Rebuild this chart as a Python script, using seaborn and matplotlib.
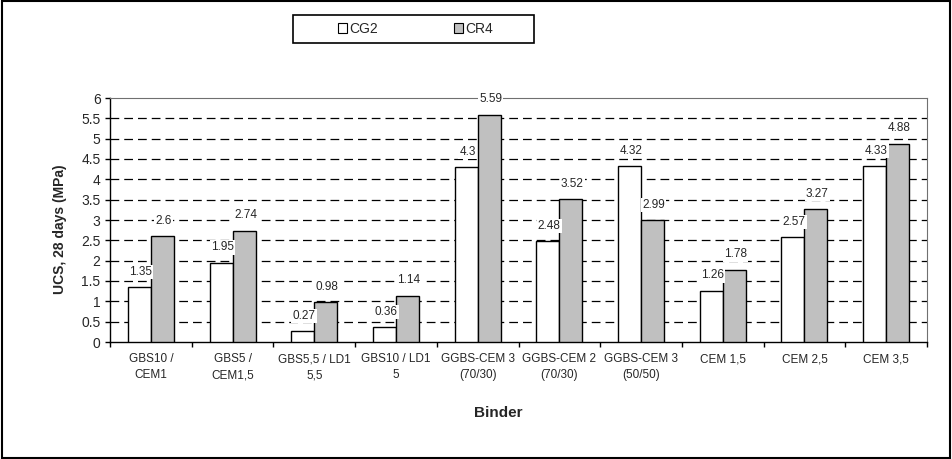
import matplotlib
matplotlib.use("Agg")
import matplotlib.pyplot as plt
import seaborn as sns
import pandas as pd
from matplotlib.patches import Rectangle
from matplotlib.ticker import FixedLocator

binders = ["GBS10 /\nCEM1", "GBS5 /\nCEM1,5", "GBS5,5 / LD1\n5,5", "GBS10 / LD1\n5",
           "GGBS-CEM 3\n(70/30)", "GGBS-CEM 2\n(70/30)", "GGBS-CEM 3\n(50/50)",
           "CEM 1,5", "CEM 2,5", "CEM 3,5"]
cg2 = [1.35, 1.95, 0.27, 0.36, 4.3, 2.48, 4.32, 1.26, 2.57, 4.33]
cr4 = [2.6, 2.74, 0.98, 1.14, 5.59, 3.52, 2.99, 1.78, 3.27, 4.88]
series = ["CG2", "CR4"]
yticks = [0, 0.5, 1, 1.5, 2, 2.5, 3, 3.5, 4, 4.5, 5, 5.5, 6]

df = pd.DataFrame({
    "Binder": binders * 2,
    "Series": ["CG2"] * len(binders) + ["CR4"] * len(binders),
    "UCS": cg2 + cr4,
})

sns.set_style("white")
plt.rcParams["font.family"] = ["Liberation Sans", "DejaVu Sans"]

W, H = 952, 459
fig = plt.figure(figsize=(W/100, H/100), dpi=100)
ax = fig.add_axes([110/W, 1-342/H, (927-110)/W, (342-98)/H])

sns.barplot(data=df, x="Binder", y="UCS", hue="Series", order=binders, hue_order=series,
            palette={"CG2": "white", "CR4": "#C0C0C0"}, edgecolor="black", linewidth=1,
            width=0.563, ax=ax, legend=True, zorder=3)

ax.set_ylim(0, 6)
ax.set_xlim(-0.5, len(binders) - 0.5)
ax.yaxis.set_major_locator(FixedLocator(yticks))
ax.set_yticklabels([f"{t:g}" for t in yticks], fontsize=10)
for t in yticks[1:-1]:
    ax.axhline(t, color="black", lw=0.9, ls=(0, (7, 4)), zorder=1)

ax.tick_params(axis="y", direction="out", length=3.8, width=1, color="black", left=True, pad=3)
ax.tick_params(axis="x", which="major", length=0, labelsize=8.5, pad=8)
for lab in ax.get_xticklabels():
    lab.set_linespacing(1.45)
ax.xaxis.set_minor_locator(FixedLocator([i + 0.5 for i in range(-1, len(binders))]))
ax.tick_params(axis="x", which="minor", direction="out", length=3.5, width=1, color="black", bottom=True)

for s in ["left", "bottom"]:
    ax.spines[s].set_color("black")
    ax.spines[s].set_linewidth(1)
for s in ["top", "right"]:
    ax.spines[s].set_color("#707070")
    ax.spines[s].set_linewidth(0.8)

for cont in ax.containers:
    for bar in cont:
        h = bar.get_height()
        ax.annotate(f"{h:g}", (bar.get_x() + bar.get_width()/2, h), xytext=(1, 11),
                    textcoords="offset points", ha="center", va="center", fontsize=8.5,
                    bbox=dict(boxstyle="square,pad=0.1", fc="white", ec="none"), zorder=4)

ax.set_xlabel("Binder", fontsize=11, fontweight="bold")
ax.xaxis.set_label_coords((498-110)/817, (342-413)/244)
ax.xaxis.label.set_verticalalignment("center")
ax.set_ylabel("UCS, 28 days (MPa)", fontsize=10, fontweight="bold")
ax.yaxis.set_label_coords((60-110)/817, (342-229)/244)
ax.yaxis.label.set_verticalalignment("center")

handles, labels = ax.get_legend_handles_labels()
ax.legend_.remove()
leg = fig.legend(handles, labels, loc="center", bbox_to_anchor=(415.5/W, 1-29/H), ncol=2,
                 frameon=False, fontsize=10, handlelength=0.65, handleheight=0.65,
                 handletextpad=0.15, columnspacing=5.5, borderpad=0)
for hnd in leg.legend_handles:
    hnd.set_linewidth(0.8)
fig.patches.append(Rectangle((293/W, 1-43/H), (534-293)/W, 28/H, transform=fig.transFigure,
                             fill=False, ec="black", lw=1.2))

fig.patches.append(Rectangle((0.002, 0.003), 0.996, 0.994, transform=fig.transFigure,
                             fill=False, ec="black", lw=1.5))

fig.savefig("out.png", dpi=100)
